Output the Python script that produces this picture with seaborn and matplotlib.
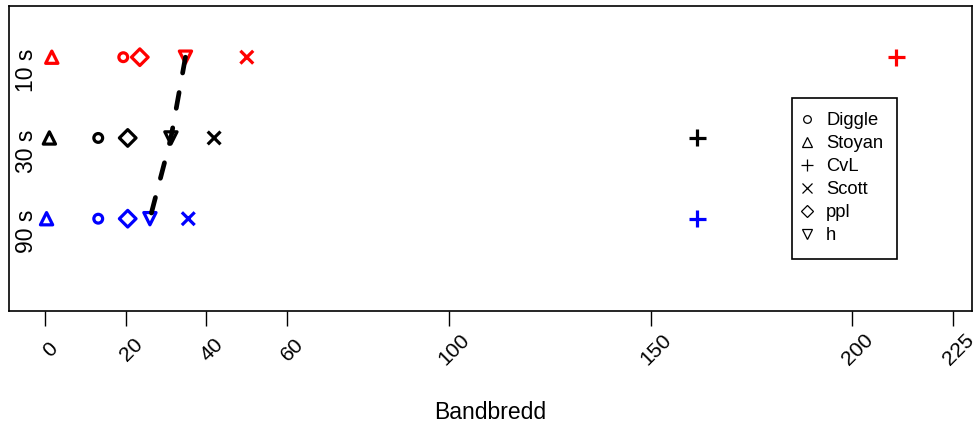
import matplotlib
matplotlib.use("Agg")
import matplotlib.pyplot as plt
from matplotlib.lines import Line2D
from matplotlib.markers import MarkerStyle
from matplotlib.transforms import ScaledTranslation
import pandas as pd
import seaborn as sns


# Bandbredd per metod och tidsupplosning
rows = ["10 s", "30 s", "90 s"]
row_colors = ["red", "black", "blue"]
methods = ["Diggle", "Stoyan", "CvL", "Scott", "ppl", "h"]
bw_10s = [19.4, 1.7, 210.9, 50.0, 23.5, 34.8]
bw_30s = [13.2, 1.1, 161.6, 41.9, 20.5, 31.2]
bw_90s = [13.2, 0.4, 161.6, 35.5, 20.5, 26.0]
x_ticks = [0, 20, 40, 60, 100, 150, 200, 225]

marker_codes = {"Diggle": "o", "Stoyan": "^", "CvL": "+", "Scott": "x", "ppl": "D", "h": "v"}
marker_sizes = {"Diggle": 40, "Stoyan": 78, "CvL": 150, "Scott": 85, "ppl": 72, "h": 78}
legend_sizes = {"Diggle": 5.5, "Stoyan": 7.2, "CvL": 8.6, "Scott": 7.2, "ppl": 6.2, "h": 7.2}


def build_frame():
    frames = []
    for row, vals in zip(rows, [bw_10s, bw_30s, bw_90s]):
        frames.append(pd.DataFrame({"row": row, "method": methods, "bw": vals}))
    return pd.concat(frames, ignore_index=True)


def main():
    sns.set_style("white")
    plt.rcParams["font.family"] = ["Liberation Sans", "DejaVu Sans"]

    df = build_frame()

    fig = plt.figure(figsize=(9.79, 4.26), dpi=100)
    ax = fig.add_axes([9 / 979, 115 / 426, 963 / 979, 305 / 426])

    markers = {m: MarkerStyle(c, fillstyle="none") for m, c in marker_codes.items()}
    for row, col in zip(rows, row_colors):
        sns.scatterplot(data=df[df.row == row], x="bw", y="row", style="method",
                        markers=markers, size="method", sizes=marker_sizes,
                        color=col, linewidth=2.3, legend=False, ax=ax)

    # streckad linje genom h
    h = df[df.method == "h"]
    sns.lineplot(data=h, x="bw", y="row", sort=False, estimator=None, orient="y",
                 color="black", linewidth=3.4, linestyle=(0, (3.4, 4.2)),
                 dash_capstyle="round", ax=ax)

    ax.set_xlim(-8.9, 229.6)
    ax.set_ylim(3.143, -0.634)
    ax.set_xticks(x_ticks)
    ax.set_xticklabels([str(t) for t in x_ticks], rotation=45, ha="center", va="center",
                       rotation_mode="anchor", fontsize=15.2)
    ax.tick_params(axis="x", length=10.8, width=1, pad=17.0, color="black",
                   direction="out", bottom=True, labelcolor="black")
    for lbl in ax.get_xticklabels():
        lbl.set_transform(lbl.get_transform() + ScaledTranslation(0.055, 0, fig.dpi_scale_trans))
    ax.set_yticks([])
    ax.set_ylabel("")

    for sp in ax.spines.values():
        sp.set_visible(True)
        sp.set_color("black")
        sp.set_linewidth(1.2)

    for i, row in enumerate(rows):
        ax.text(-4.5, i + 0.16, row, rotation=90, ha="center", va="center",
                fontsize=16.5, color="black")

    ax.set_xlabel("Bandbredd", fontsize=16.5, va="center", color="black")
    ax.xaxis.set_label_coords(0.5, -0.334)

    handles = [Line2D([], [], marker=marker_codes[m], fillstyle="none", linestyle="none",
                      color="black", markersize=legend_sizes[m], markeredgewidth=0.9)
               for m in methods]
    leg = ax.legend(handles, methods, loc="upper left", bbox_to_anchor=(0.813, 0.698),
                    borderaxespad=0, fontsize=13.2, frameon=True, fancybox=False,
                    edgecolor="black", framealpha=1, handlelength=0.1, handletextpad=1.0,
                    borderpad=0.77, labelspacing=0.33)
    leg.get_frame().set_linewidth(1.2)
    for t in leg.get_texts():
        t.set_color("black")

    fig.savefig("out.png", dpi=100)


if __name__ == "__main__":
    main()
